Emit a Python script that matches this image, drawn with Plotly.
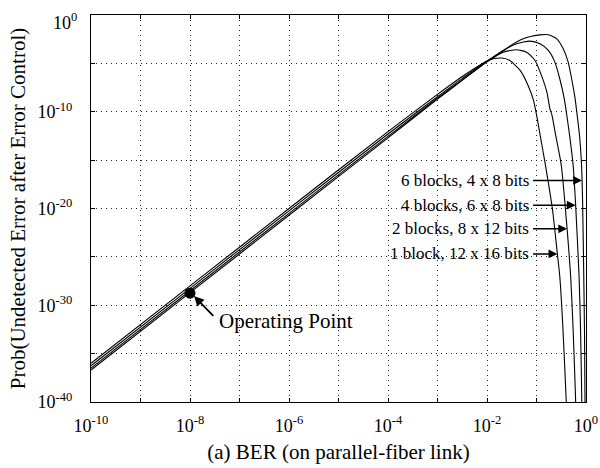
import numpy as np
import plotly.graph_objects as go

# ---- data (exponents of 10) ----
series_labels = ["6 blocks, 4 x 8 bits", "4 blocks, 6 x 8 bits",
                 "2 blocks, 8 x 12 bits", "1 block, 12 x 16 bits"]

ber_exp_6blk = [-10, -8, -6, -4, -3, -2.5, -2, -1.8, -1.54, -1.27, -1.1, -0.93, -0.76,
                -0.59, -0.46, -0.36, -0.29, -0.22, -0.18, -0.13, -0.09, -0.07, -0.045,
                -0.03, -0.02, -0.015]
prob_exp_6blk = [-36.7, -28.7, -20.7, -12.7, -8.7, -6.75, -4.85, -4.2, -3.22, -2.46, -2.2,
                 -2.05, -2.05, -2.46, -3.49, -4.87, -6.59, -8.65, -10.3, -12.5, -15.5,
                 -19.0, -27.0, -33.0, -39.8, -42.0]

ber_exp_4blk = [-10, -8, -6, -4, -3, -2.5, -2, -1.7, -1.4, -1.13, -0.93, -0.76, -0.63,
                -0.53, -0.44, -0.39, -0.33, -0.26, -0.21, -0.14, -0.11, -0.085, -0.078]
prob_exp_4blk = [-36.5, -28.5, -20.5, -12.55, -8.6, -6.7, -4.8, -3.75, -2.97, -2.70,
                 -2.97, -3.66, -4.87, -6.59, -8.65, -10.3, -12.5, -15.5, -19.6, -27.0,
                 -32.5, -39.8, -42.0]

ber_exp_2blk = [-10, -8, -6, -4, -3, -2.5, -2, -1.67, -1.40, -1.20, -1.03, -0.90, -0.79,
                -0.73, -0.69, -0.61, -0.50, -0.38, -0.31, -0.26, -0.21, -0.20]
prob_exp_2blk = [-36.25, -28.25, -20.25, -12.3, -8.45, -6.55, -4.75, -3.84, -3.59, -3.84,
                 -4.70, -6.24, -7.97, -9.68, -10.3, -12.5, -15.5, -22.2, -27.0, -32.5,
                 -39.8, -42.0]

ber_exp_1blk = [-10, -8, -6, -4, -3, -2.5, -2, -1.85, -1.70, -1.54, -1.33, -1.17, -1.06,
                -1.00, -0.91, -0.83, -0.68, -0.58, -0.53, -0.47, -0.40, -0.385]
prob_exp_1blk = [-36.0, -28.0, -20.0, -12.05, -8.2, -6.35, -4.75, -4.5, -4.45, -4.70,
                 -5.73, -7.28, -8.82, -10.3, -12.9, -15.2, -20.0, -24.6, -27.0, -32.0,
                 -39.8, -42.0]

op_ber_exp = -8.0
op_prob_exp = -28.75

x_tick_exps = [-10, -9, -8, -7, -6, -5, -4, -3, -2, -1, 0]
x_tick_text = ["10<sup>-10</sup>", "", "10<sup>-8</sup>", "", "10<sup>-6</sup>", "",
               "10<sup>-4</sup>", "", "10<sup>-2</sup>", "", "10<sup>0</sup>"]
y_tick_exps = [-40, -35, -30, -25, -20, -15, -10, -5, 0]
y_tick_text = ["10<sup>-40</sup>", "", "10<sup>-30</sup>", "", "10<sup>-20</sup>", "",
               "10<sup>-10</sup>", "", ""]
y_top_label = "10<sup>0</sup>"

# label vertical positions (exponent) for the arrow callouts
label_y_exps = [-17.1, -19.66, -22.1, -24.7]
label_tail_exp = -1.10

FONT = "Liberation Serif"

series = [(ber_exp_6blk, prob_exp_6blk), (ber_exp_4blk, prob_exp_4blk),
          (ber_exp_2blk, prob_exp_2blk), (ber_exp_1blk, prob_exp_1blk)]

fig = go.Figure()
for (bx, py), name in zip(series, series_labels):
    fig.add_trace(go.Scatter(
        x=10.0 ** np.array(bx), y=10.0 ** np.array(py), mode="lines", name=name,
        line=dict(color="black", width=1.1, shape="spline", smoothing=0.6),
        showlegend=False, hoverinfo="skip"))

fig.add_trace(go.Scatter(x=[10.0 ** op_ber_exp], y=[10.0 ** op_prob_exp], mode="markers",
                         marker=dict(color="black", size=11), showlegend=False))

annotations = []
for (bx, py), name, ly in zip(series, series_labels, label_y_exps):
    bx = np.array(bx); py = np.array(py)
    k = int(np.argmax(py))
    # descending branch: interpolate x at label height
    hx = float(np.interp(ly, py[k:][::-1], bx[k:][::-1]))
    annotations.append(dict(x=hx, y=ly, ax=label_tail_exp, ay=ly, xref="x", yref="y",
                            axref="x", ayref="y", text="", showarrow=True,
                            arrowhead=2, arrowsize=1.1, arrowwidth=1.6, arrowcolor="black"))
    annotations.append(dict(x=label_tail_exp - 0.02, y=ly, xref="x", yref="y",
                            text=name, showarrow=False, xanchor="right", yanchor="middle",
                            font=dict(family=FONT, size=17, color="black")))

annotations.append(dict(x=op_ber_exp + 0.08, y=op_prob_exp - 0.3, ax=op_ber_exp + 0.5,
                        ay=op_prob_exp - 2.5, xref="x", yref="y", axref="x", ayref="y",
                        text="", showarrow=True, arrowhead=2, arrowsize=1.1,
                        arrowwidth=1.8, arrowcolor="black"))
annotations.append(dict(x=op_ber_exp + 0.55, y=op_prob_exp - 2.85, xref="x", yref="y",
                        text="Operating Point", showarrow=False, xanchor="left",
                        yanchor="middle", font=dict(family=FONT, size=21, color="black")))
# top y tick label, nudged down as in the reference
annotations.append(dict(x=0, y=0, xref="paper", yref="y", text=y_top_label,
                        showarrow=False, xanchor="right", yanchor="middle",
                        xshift=-12, yshift=-6,
                        font=dict(family=FONT, size=18, color="black")))

axis_common = dict(type="log", showline=True, linecolor="black", linewidth=1.2,
                   mirror="ticks", ticks="inside", ticklen=4, tickcolor="black",
                   showgrid=True, gridcolor="#222222", gridwidth=1, griddash="1px,4px",
                   zeroline=False, automargin=False, ticklabeloverflow="allow",
                   tickfont=dict(family=FONT, size=18, color="black"))

fig.update_layout(
    width=600, height=468, paper_bgcolor="white", plot_bgcolor="white",
    margin=dict(l=91, r=14, t=15, b=66),
    annotations=annotations,
    xaxis=dict(axis_common, range=[-10, 0], tickvals=[10.0 ** e for e in x_tick_exps],
               ticktext=x_tick_text, ticklabelstandoff=7,
               title=dict(text="(a) BER (on parallel-fiber link)", standoff=9,
                          font=dict(family=FONT, size=21, color="black"))),
    yaxis=dict(axis_common, range=[-40, 0], tickvals=[10.0 ** e for e in y_tick_exps],
               ticktext=y_tick_text, ticklabelstandoff=14,
               title=dict(text="Prob(Undetected Error after Error Control)", standoff=6,
                          font=dict(family=FONT, size=21, color="black"))),
)

# remove the page's default body margin so the 600x468 figure fills the window
fig.write_html("out.html", config={"displayModeBar": False},
               post_script="document.body.style.margin='0px';")
